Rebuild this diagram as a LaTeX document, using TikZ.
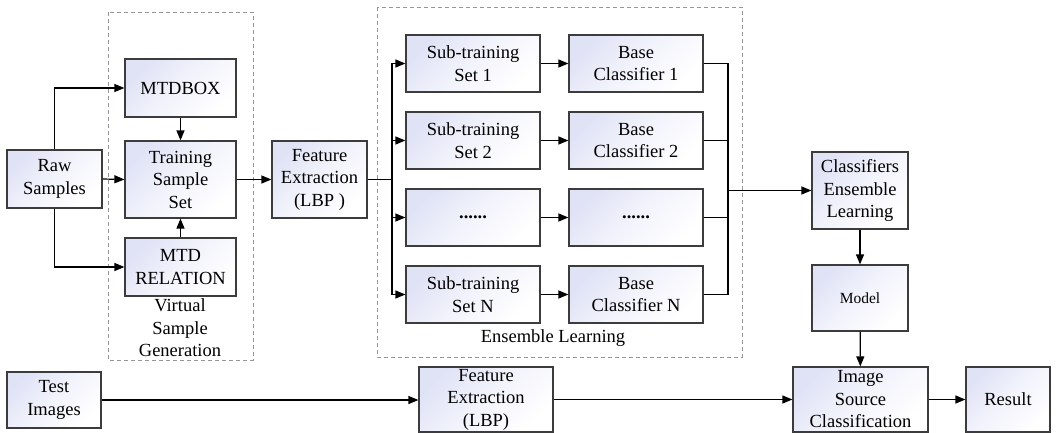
\documentclass[tikz,border=0pt]{standalone}
\usepackage{fontspec}
\setmainfont{Liberation Serif}
\newfontfamily\tnr{Liberation Serif}
\usetikzlibrary{arrows.meta}
\definecolor{lav}{RGB}{224,227,246}
\definecolor{bord}{RGB}{60,60,60}
\definecolor{dash}{RGB}{150,150,150}
\begin{document}
\begin{tikzpicture}[x=1pt,y=-1pt,
  box/.style={draw=bord, line width=1.2pt, inner sep=0pt, align=center,
    top color=lav, bottom color=white, middle color=white!60!lav, shading angle=45,
    font=\tnr\fontsize{18.5}{22.5}\selectfont},
  arr/.style={-{Triangle[length=10pt,width=8pt]}, line width=1.2pt},
  ln/.style={line width=1.2pt},
  grp/.style={draw=dash, dashed, line width=0.8pt, dash pattern=on 4pt off 3pt},
  lbl/.style={align=center, font=\tnr\fontsize{18.5}{22.5}\selectfont}]
\useasboundingbox (0,0) rectangle (1056,433);
% groups
\draw[grp] (108,12) rectangle (253,360);
\draw[grp] (377,7) rectangle (742,357);
\node[lbl] (vsg) at (180,328) {Virtual\\Sample\\Generation};
\node[lbl] (enl) at (553,338) {Ensemble Learning};
% boxes
\node[box, minimum width=95, minimum height=58] (raw) at (54.5,179) {Raw\\Samples};
\node[box, minimum width=111, minimum height=58] (mtdbox) at (180.5,88) {MTDBOX};
\node[box, minimum width=111, minimum height=77] (tss) at (180.5,179.5) {Training\\Sample\\Set};
\node[box, minimum width=111, minimum height=58] (mtdrel) at (180.5,267) {MTD\\RELATION};
\node[box, minimum width=95, minimum height=77] (fe1) at (319.5,179.5) {Feature\\Extraction\\(LBP )};
\node[box, minimum width=134, minimum height=57] (s1) at (473,63.5) {Sub-training\\Set 1};
\node[box, minimum width=134, minimum height=57] (s2) at (473,140.5) {Sub-training\\Set 2};
\node[box, minimum width=134, minimum height=57] (s3) at (473,217.5) {\textbf{......}};
\node[box, minimum width=134, minimum height=57] (sN) at (473,294.5) {Sub-training\\Set N};
\node[box, minimum width=134, minimum height=57] (b1) at (636,63.5) {Base\\Classifier 1};
\node[box, minimum width=134, minimum height=57] (b2) at (636,140.5) {Base\\Classifier 2};
\node[box, minimum width=134, minimum height=57] (b3) at (636,217.5) {\textbf{......}};
\node[box, minimum width=134, minimum height=57] (bN) at (636,294.5) {Base\\Classifier N};
\node[box, minimum width=96, minimum height=77] (cel) at (860,190.5) {Classifiers\\Ensemble\\Learning};
\node[box, minimum width=96, minimum height=66, font=\tnr\fontsize{15.5}{18}\selectfont] (model) at (860,298) {Model};
\node[box, minimum width=94, minimum height=56] (test) at (54,400) {Test\\Images};
\node[box, minimum width=134, minimum height=65] (fe2) at (486,399.5) {Feature\\Extraction\\(LBP)};
\node[box, minimum width=135, minimum height=65] (isc) at (860.5,399.5) {Image\\Source\\Classification};
\node[box, minimum width=84, minimum height=65] (res) at (1008,399.5) {Result};
% connectors
\draw[arr] (raw.north) |- (mtdbox.west);
\draw[arr] (raw.south) |- (mtdrel.west);
\draw[arr] (raw.east) -- (tss.west);
\draw[arr] (mtdbox.south) -- (tss.north);
\draw[arr] (mtdrel.north) -- (tss.south);
\draw[arr] (tss.east) -- (fe1.west);
\coordinate (sx) at (392,179.5);
\draw[ln] (fe1.east) -- (sx);
\draw[ln] (s1.west -| sx) -- (sN.west -| sx);
\foreach \n in {s1,s2,s3,sN} \draw[arr] (\n.west -| sx) -- (\n.west);
\draw[arr] (s1) -- (b1);
\draw[arr] (s2) -- (b2);
\draw[arr] (s3) -- (b3);
\draw[arr] (sN) -- (bN);
\coordinate (mx) at (728,190.5);
\foreach \n in {b1,b2,b3,bN} \draw[ln] (\n.east) -- (\n.east -| mx);
\draw[ln] (b1.east -| mx) -- (bN.east -| mx);
\draw[arr] (mx) -- (cel.west);
\draw[arr] (cel) -- (model);
\draw[arr] (model) -- (isc);
\draw[arr] (test.east) -- (test.east -| fe2.west);
\draw[arr] (fe2.east) -- (isc.west);
\draw[arr] (isc) -- (res);
\end{tikzpicture}
\end{document}
